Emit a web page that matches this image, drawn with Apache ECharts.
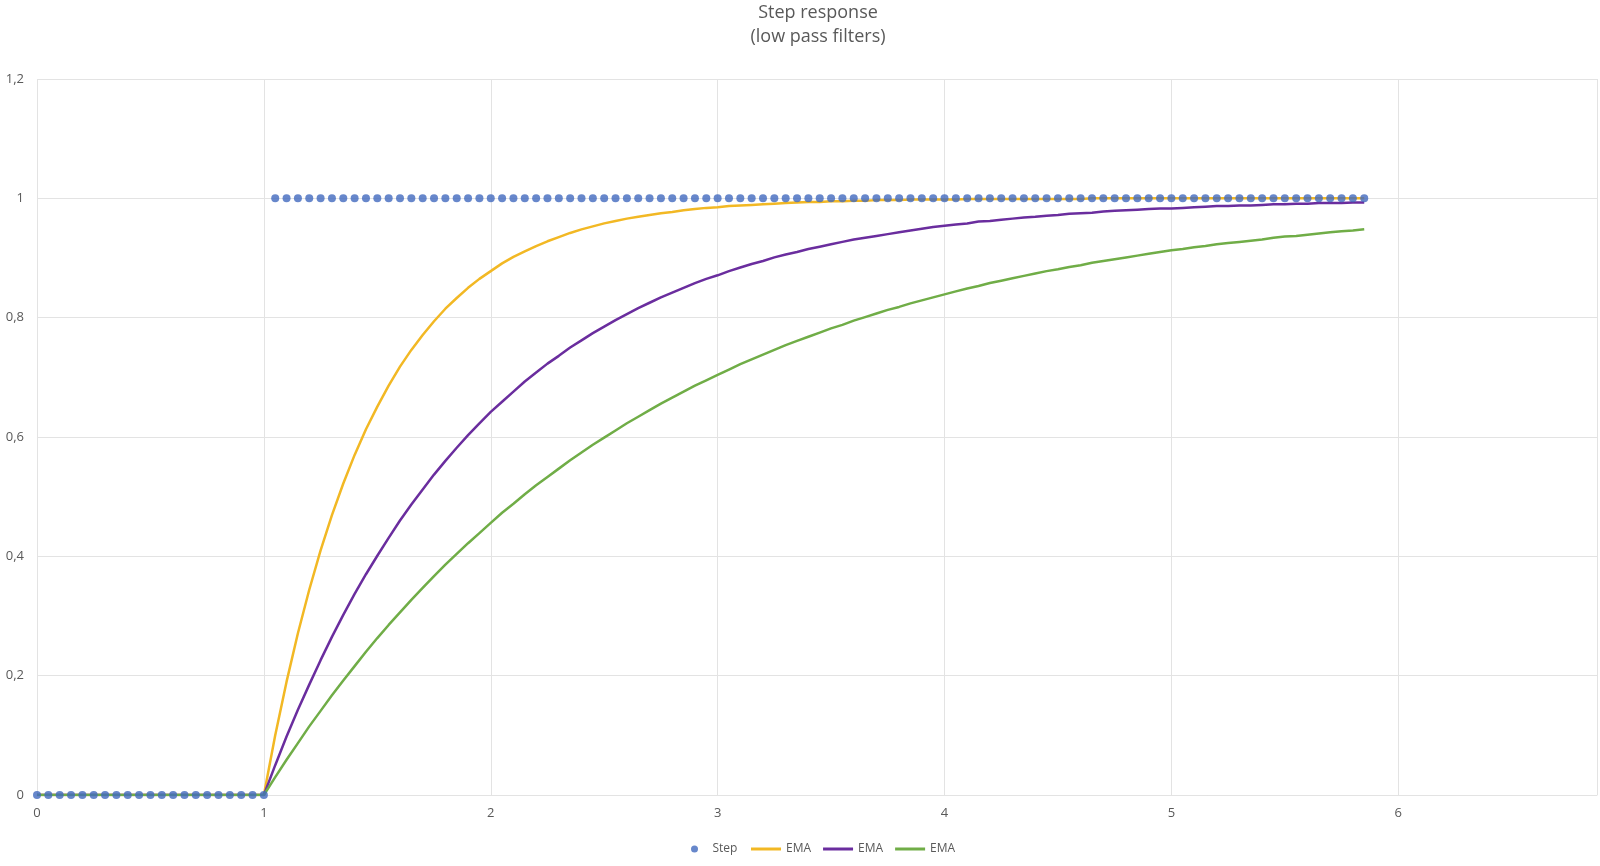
<!DOCTYPE html>
<html>
<head>
<meta charset="utf-8">
<script src="https://cdn.jsdelivr.net/npm/echarts@6/dist/echarts.min.js"></script>
<style>html,body{margin:0;padding:0;background:#fff;}#chart{width:1600px;height:866px;}</style>
</head>
<body>
<div id="chart"></div>
<script>
const xValues = [0,0.05,0.1,0.15,0.2,0.25,0.3,0.35,0.4,0.45,0.5,0.55,0.6,0.65,0.7,0.75,0.8,0.85,0.9,0.95,
1,1.05,1.1,1.15,1.2,1.25,1.3,1.35,1.4,1.45,1.5,1.55,1.6,1.65,1.7,1.75,1.8,1.85,1.9,1.95,
2,2.05,2.1,2.15,2.2,2.25,2.3,2.35,2.4,2.45,2.5,2.55,2.6,2.65,2.7,2.75,2.8,2.85,2.9,2.95,
3,3.05,3.1,3.15,3.2,3.25,3.3,3.35,3.4,3.45,3.5,3.55,3.6,3.65,3.7,3.75,3.8,3.85,3.9,3.95,
4,4.05,4.1,4.15,4.2,4.25,4.3,4.35,4.4,4.45,4.5,4.55,4.6,4.65,4.7,4.75,4.8,4.85,4.9,4.95,
5,5.05,5.1,5.15,5.2,5.25,5.3,5.35,5.4,5.45,5.5,5.55,5.6,5.65,5.7,5.75,5.8,5.85];

const stepValues = [0,0,0,0,0,0,0,0,0,0,0,0,0,0,0,0,0,0,0,0,
0,1,1,1,1,1,1,1,1,1,1,1,1,1,1,1,1,1,1,1,
1,1,1,1,1,1,1,1,1,1,1,1,1,1,1,1,1,1,1,1,
1,1,1,1,1,1,1,1,1,1,1,1,1,1,1,1,1,1,1,1,
1,1,1,1,1,1,1,1,1,1,1,1,1,1,1,1,1,1,1,1,
1,1,1,1,1,1,1,1,1,1,1,1,1,1,1,1,1,1];

const emaFast = [0,0,0,0,0,0,0,0,0,0,0,0,0,0,0,0,0,0,0,0,
0,0.1,0.19,0.271,0.344,0.41,0.469,0.522,0.57,0.613,0.651,0.686,0.718,0.746,0.771,0.794,0.815,0.833,0.85,0.865,
0.878,0.891,0.902,0.911,0.92,0.928,0.935,0.942,0.948,0.953,0.958,0.962,0.966,0.969,0.972,0.975,0.977,0.98,0.982,0.984,
0.985,0.987,0.988,0.989,0.99,0.991,0.992,0.993,0.994,0.994,0.995,0.995,0.996,0.996,0.997,0.997,0.997,0.998,0.998,0.998,
0.998,0.998,0.999,0.999,0.999,0.999,0.999,0.999,0.999,0.999,0.999,0.999,0.999,1,1,1,1,1,1,1,
1,1,1,1,1,1,1,1,1,1,1,1,1,1,1,1,1,1];

const emaMid = [0,0,0,0,0,0,0,0,0,0,0,0,0,0,0,0,0,0,0,0,
0,0.05,0.098,0.143,0.185,0.226,0.265,0.302,0.337,0.37,0.401,0.431,0.46,0.487,0.512,0.537,0.56,0.582,0.603,0.623,
0.642,0.659,0.676,0.693,0.708,0.723,0.736,0.75,0.762,0.774,0.785,0.796,0.806,0.816,0.825,0.834,0.842,0.85,0.858,0.865,
0.871,0.878,0.884,0.89,0.895,0.901,0.906,0.91,0.915,0.919,0.923,0.927,0.931,0.934,0.937,0.94,0.943,0.946,0.949,0.952,
0.954,0.956,0.958,0.961,0.962,0.964,0.966,0.968,0.969,0.971,0.972,0.974,0.975,0.976,0.978,0.979,0.98,0.981,0.982,0.983,
0.983,0.984,0.985,0.986,0.987,0.987,0.988,0.988,0.989,0.99,0.99,0.991,0.991,0.992,0.992,0.992,0.993,0.993];

const emaSlow = [0,0,0,0,0,0,0,0,0,0,0,0,0,0,0,0,0,0,0,0,
0,0.03,0.059,0.087,0.115,0.141,0.167,0.192,0.216,0.24,0.263,0.285,0.306,0.327,0.347,0.367,0.386,0.404,0.422,0.439,
0.456,0.473,0.488,0.504,0.519,0.533,0.547,0.561,0.574,0.587,0.599,0.611,0.623,0.634,0.645,0.656,0.666,0.676,0.686,0.695,
0.704,0.713,0.722,0.73,0.738,0.746,0.754,0.761,0.768,0.775,0.782,0.788,0.795,0.801,0.807,0.813,0.818,0.824,0.829,0.834,
0.839,0.844,0.849,0.853,0.858,0.862,0.866,0.87,0.874,0.878,0.881,0.885,0.888,0.892,0.895,0.898,0.901,0.904,0.907,0.91,
0.913,0.915,0.918,0.92,0.923,0.925,0.927,0.929,0.931,0.934,0.936,0.937,0.939,0.941,0.943,0.945,0.946,0.948];

const yTicks = [0, 0.2, 0.4, 0.6, 0.8, 1, 1.2];
const xTicks = [0, 1, 2, 3, 4, 5, 6];

function pairs(ys) { return xValues.map((x, i) => [x, ys[i]]); }

const FONT = '"Open Sans", "Noto Sans", sans-serif';
const TXT = '#595959';
const GRIDC = '#e3e3e3';

const chart = echarts.init(document.getElementById('chart'), null, {renderer: 'canvas'});
chart.setOption({
  animation: false,
  backgroundColor: '#ffffff',
  title: {
    text: 'Step response\n(low pass filters)',
    left: 813,
    top: -4,
    textAlign: 'center',
    textStyle: {fontFamily: FONT, fontSize: 18, fontWeight: 'normal', color: TXT, lineHeight: 24}
  },
  grid: {left: 37, right: 0, top: 79, bottom: 71, containLabel: false},
  legend: [
    {
      data: ['Step'],
      left: 686, top: 838,
      icon: 'circle', itemWidth: 26, itemHeight: 7,
      textStyle: {fontFamily: FONT, fontSize: 12, color: TXT}
    },
    {
      data: ['EMA1', 'EMA2', 'EMA3'],
      left: 746, top: 838,
      icon: 'rect', itemWidth: 30, itemHeight: 3, itemGap: 12,
      formatter: () => 'EMA',
      textStyle: {fontFamily: FONT, fontSize: 12, color: TXT}
    }
  ],
  xAxis: {
    type: 'value', min: 0, max: 6.876, interval: 1,
    axisLine: {show: true, lineStyle: {color: GRIDC, width: 1}},
    axisTick: {show: false},
    splitLine: {show: true, lineStyle: {color: GRIDC, width: 1}},
    axisLabel: {
      margin: 12, fontFamily: FONT, fontSize: 13, color: TXT,
      formatter: v => xTicks.indexOf(v) >= 0 ? String(v) : ''
    }
  },
  yAxis: {
    type: 'value', min: 0, max: 1.2, interval: 0.2,
    axisLine: {show: false},
    axisTick: {show: false},
    splitLine: {show: true, lineStyle: {color: GRIDC, width: 1}},
    axisLabel: {
      margin: 13, fontFamily: FONT, fontSize: 13, color: TXT,
      formatter: v => {
        const t = yTicks.find(k => Math.abs(k - v) < 1e-9);
        return t === undefined ? '' : String(t).replace('.', ',');
      }
    }
  },
  series: [
    {
      name: 'Step', type: 'scatter', data: pairs(stepValues),
      symbol: 'circle', symbolSize: 8, z: 5,
      itemStyle: {color: '#4169BE'}
    },
    {
      name: 'EMA1', type: 'line', data: pairs(emaFast), showSymbol: false, z: 3,
      lineStyle: {color: '#F2B824', width: 2.5}, itemStyle: {color: '#F2B824'}
    },
    {
      name: 'EMA2', type: 'line', data: pairs(emaMid), showSymbol: false, z: 3,
      lineStyle: {color: '#6A2D9E', width: 2.5}, itemStyle: {color: '#6A2D9E'}
    },
    {
      name: 'EMA3', type: 'line', data: pairs(emaSlow), showSymbol: false, z: 3,
      lineStyle: {color: '#70AD47', width: 2.5}, itemStyle: {color: '#70AD47'}
    }
  ]
});
</script>
</body>
</html>
